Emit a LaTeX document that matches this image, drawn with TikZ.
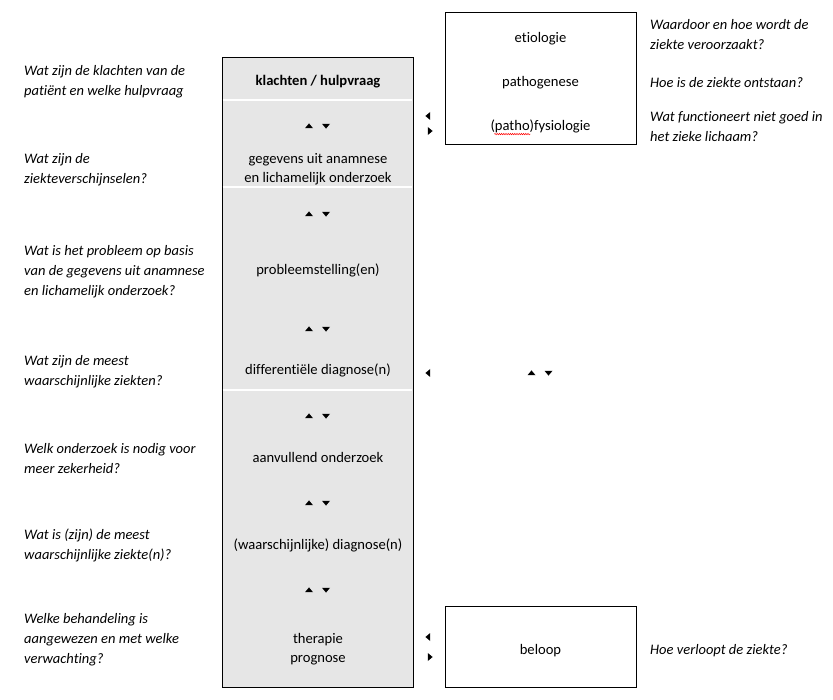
\documentclass[tikz,border=0pt]{standalone}
\usepackage{fontspec}
\setmainfont{Carlito}[Ligatures=NoCommon]
\usetikzlibrary{decorations.pathmorphing}
\definecolor{boxgray}{HTML}{E6E6E6}
\tikzset{
  uptri/.pic={\fill[black] (-4,2.2) -- (4,2.2) -- (0,-2.6) -- cycle;},
  dntri/.pic={\fill[black] (-4,-2.2) -- (4,-2.2) -- (0,2.6) -- cycle;},
  lftri/.pic={\fill[black] (2.2,-4) -- (2.2,4) -- (-2.6,0) -- cycle;},
  rttri/.pic={\fill[black] (-2.2,-4) -- (-2.2,4) -- (2.6,0) -- cycle;},
  pair/.pic={\pic at (-8.5,0) {uptri}; \pic at (8.5,0) {dntri};},
  mainbox/.style={draw=black, line width=0.9pt, fill=boxgray},
  sidebox/.style={draw=black, line width=0.9pt, fill=white},
  sep/.style={white, line width=1.4pt},
  mtext/.style={font=\fontsize{14.6}{19.5}\selectfont, align=center, inner sep=0pt, yshift=-1.5pt},
  qtext/.style={font=\fontsize{14.5}{20}\selectfont\itshape, align=left, anchor=west, inner sep=0pt, yshift=-1.5pt},
}
\begin{document}
\begin{tikzpicture}[x=1pt,y=-1pt]
\useasboundingbox (0,0) rectangle (833,700);
% main column
\draw[mainbox] (222,57) rectangle (413,687);
\draw[sep] (222.6,100) -- (412.4,100);
\draw[sep] (222.6,187) -- (412.4,187);
\draw[sep] (222.6,390) -- (412.4,390);
\node[mtext, font=\fontsize{14.6}{19.5}\selectfont\bfseries] (klacht) at (318,80) {klachten / hulpvraag};
\pic at (317.5,126) {pair};
\node[mtext] (gegevens) at (318,167.5) {gegevens uit anamnese\\en lichamelijk onderzoek};
\pic at (317.5,214) {pair};
\node[mtext] (probleem) at (318,269) {probleemstelling(en)};
\pic at (317.5,329) {pair};
\node[mtext] (ddx) at (318,369) {differentiële diagnose(n)};
\pic at (317.5,416) {pair};
\node[mtext] (aanv) at (318,456) {aanvullend onderzoek};
\pic at (317.5,503) {pair};
\node[mtext] (diag) at (318,544) {(waarschijnlijke) diagnose(n)};
\pic at (317.5,590) {pair};
\node[mtext] (ther) at (318,647.5) {therapie\\prognose};
% top right box
\draw[sidebox] (445,12) rectangle (636,144);
\node[mtext] (etio) at (540.5,37) {etiologie};
\node[mtext] (patho) at (540.5,81) {pathogenese};
\node[mtext] (fysio) at (540.5,125) {(patho)fysiologie};
\draw[red, line width=0.5pt, decorate, decoration={snake, amplitude=0.7pt, segment length=2.2pt}]
  ([xshift=4pt,yshift=-3.5pt]fysio.base west) -- ([xshift=40pt,yshift=-3.5pt]fysio.base west);
\pic at (428,116) {lftri};
\pic at (430,131) {rttri};
% middle
\pic at (428,373) {lftri};
\pic at (540,373) {pair};
% bottom right box
\draw[sidebox] (445,606) rectangle (636,687);
\node[mtext] (beloop) at (540.5,649) {beloop};
\pic at (428,637) {lftri};
\pic at (430,657) {rttri};
% left questions
\node[qtext] (q1) at (24,80.5) {Wat zijn de klachten van de\\patiënt en welke hulpvraag};
\node[qtext] (q2) at (24,168) {Wat zijn de\\ziekteverschijnselen?};
\node[qtext] (q3) at (24,270) {Wat is het probleem op basis\\van de gegevens uit anamnese\\en lichamelijk onderzoek?};
\node[qtext] (q4) at (24,370) {Wat zijn de meest\\waarschijnlijke ziekten?};
\node[qtext] (q5) at (24,457) {Welk onderzoek is nodig voor\\meer zekerheid?};
\node[qtext] (q6) at (24,544) {Wat is (zijn) de meest\\waarschijnlijke ziekte(n)?};
\node[qtext] (q7) at (24,638.5) {Welke behandeling is\\aangewezen en met welke\\verwachting?};
% right questions
\node[qtext] (r1) at (650,33) {Waardoor en hoe wordt de\\ziekte veroorzaakt?};
\node[qtext] (r2) at (650,81) {Hoe is de ziekte ontstaan?};
\node[qtext] (r3) at (650,125.5) {Wat functioneert niet goed in\\het zieke lichaam?};
\node[qtext] (r4) at (650,649) {Hoe verloopt de ziekte?};
\end{tikzpicture}
\end{document}
